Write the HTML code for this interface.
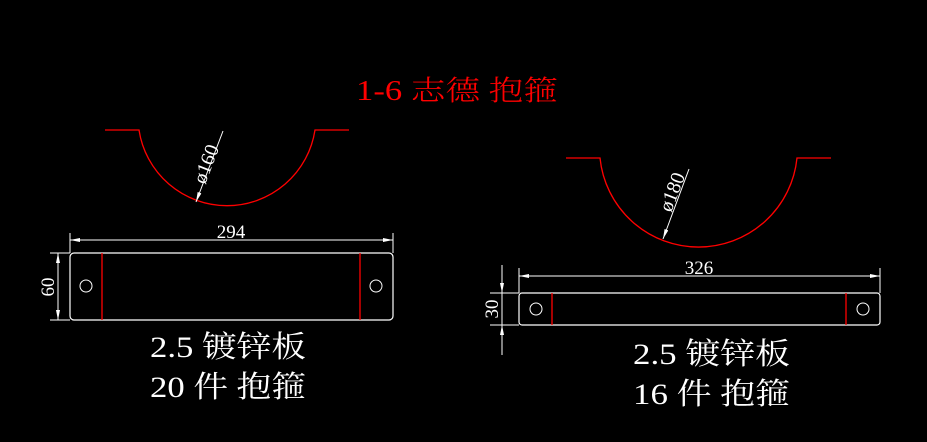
<!DOCTYPE html>
<html><head><meta charset="utf-8"><style>
html,body{margin:0;padding:0;background:#000;}
svg{display:block;}
text{font-family:"Liberation Serif","Noto Serif CJK SC",serif;}
</style></head><body>
<svg width="927" height="442" viewBox="0 0 927 442" xmlns="http://www.w3.org/2000/svg">
<rect width="927" height="442" fill="#000"/>
<defs>
<marker id="ar" viewBox="0 0 10 4" refX="10" refY="2" markerWidth="10" markerHeight="4" markerUnits="userSpaceOnUse" orient="auto"><path d="M0,0 L10,2 L0,4z" fill="#fff"/></marker>
</defs>
<text x="356" y="100" fill="#f00" font-size="28" textLength="202" lengthAdjust="spacingAndGlyphs" font-weight="300">1-6 志德 抱箍</text>

<!-- left arc -->
<path d="M105,130 H139 A89,89 0 0 0 315,130 H349" fill="none" stroke="#f00" stroke-width="1.3"/>
<line x1="223" y1="131" x2="196" y2="202" stroke="#fff" stroke-width="1" marker-end="url(#ar)"/>
<text transform="translate(205,185) rotate(-69)" fill="#fff" font-size="20">ø160</text>

<!-- left plate -->
<rect x="70" y="253" width="323" height="67" rx="4" fill="none" stroke="#fff" stroke-width="1.2"/>
<line x1="102" y1="253" x2="102" y2="320" stroke="#f00" stroke-width="1.3"/>
<line x1="360" y1="253" x2="360" y2="320" stroke="#f00" stroke-width="1.3"/>
<circle cx="86" cy="286" r="6" fill="none" stroke="#fff"/>
<circle cx="376" cy="286" r="6" fill="none" stroke="#fff"/>
<g stroke="#fff" stroke-width="1">
<line x1="70" y1="233" x2="70" y2="253"/><line x1="393" y1="233" x2="393" y2="253"/>
<line x1="70" y1="240" x2="393" y2="240"/>
<line x1="50" y1="253" x2="70" y2="253"/><line x1="50" y1="320" x2="70" y2="320"/>
<line x1="58" y1="253" x2="58" y2="320"/>
</g>
<path d="M70,240 l10,-2 v4z M393,240 l-10,-2 v4z M58,253 l-2,10 h4z M58,320 l-2,-10 h4z" fill="#fff"/>
<text x="231" y="238" fill="#fff" font-size="19" text-anchor="middle">294</text>
<text transform="translate(54,287) rotate(-90)" fill="#fff" font-size="19" text-anchor="middle">60</text>

<text x="150" y="357" fill="#fff" font-size="30" textLength="156" lengthAdjust="spacingAndGlyphs">2.5 镀锌板</text>
<text x="150" y="397" fill="#fff" font-size="30" textLength="156" lengthAdjust="spacingAndGlyphs">20 件 抱箍</text>

<!-- right arc -->
<path d="M566,158 H600 A99,99 0 0 0 797,158 H831" fill="none" stroke="#f00" stroke-width="1.3"/>
<line x1="689" y1="169" x2="663" y2="239" stroke="#fff" stroke-width="1" marker-end="url(#ar)"/>
<text transform="translate(671,213) rotate(-69)" fill="#fff" font-size="20">ø180</text>

<!-- right plate -->
<rect x="519" y="293" width="361" height="32" rx="3" fill="none" stroke="#fff" stroke-width="1.2"/>
<line x1="552" y1="293" x2="552" y2="325" stroke="#f00" stroke-width="1.3"/>
<line x1="846" y1="293" x2="846" y2="325" stroke="#f00" stroke-width="1.3"/>
<circle cx="536" cy="309" r="6" fill="none" stroke="#fff"/>
<circle cx="863" cy="309" r="6" fill="none" stroke="#fff"/>
<g stroke="#fff" stroke-width="1">
<line x1="519" y1="268" x2="519" y2="293"/><line x1="880" y1="268" x2="880" y2="293"/>
<line x1="519" y1="276" x2="880" y2="276"/>
<line x1="490" y1="293" x2="519" y2="293"/><line x1="490" y1="325" x2="519" y2="325"/>
<line x1="502" y1="265" x2="502" y2="355"/>
</g>
<path d="M519,276 l10,-2 v4z M880,276 l-10,-2 v4z M502,293 l-2,-10 h4z M502,325 l-2,10 h4z" fill="#fff"/>
<text x="699" y="274" fill="#fff" font-size="19" text-anchor="middle">326</text>
<text transform="translate(498,309) rotate(-90)" fill="#fff" font-size="19" text-anchor="middle">30</text>

<text x="633" y="364" fill="#fff" font-size="30" textLength="157" lengthAdjust="spacingAndGlyphs">2.5 镀锌板</text>
<text x="633" y="404" fill="#fff" font-size="30" textLength="157" lengthAdjust="spacingAndGlyphs">16 件 抱箍</text>
</svg>
</body></html>
